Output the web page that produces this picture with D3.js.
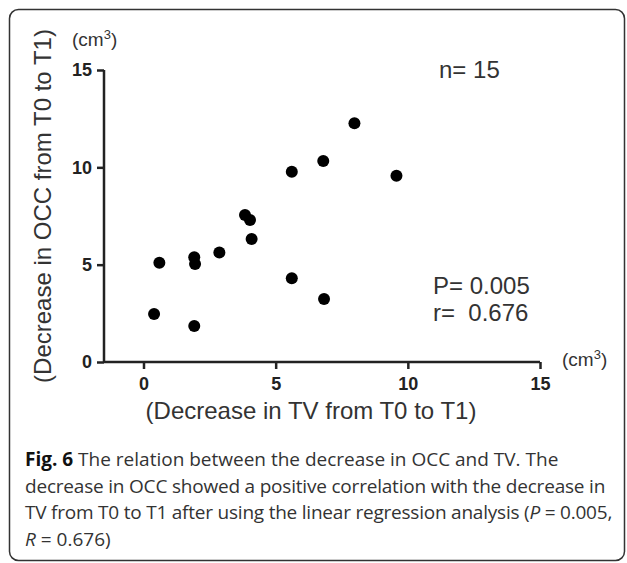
<!DOCTYPE html>
<html>
<head>
<meta charset="utf-8">
<script src="https://cdn.jsdelivr.net/npm/d3@7"></script>
<style>
  body { margin: 0; background: #fff; }
</style>
</head>
<body>
<div id="chart"></div>
<script>
// data (cm3)
var tvDecrease  = [0.40, 0.60, 1.92, 1.92, 1.95, 2.87, 3.84, 4.03, 4.09, 5.61, 5.61, 6.80, 6.83, 7.98, 9.57]
var occDecrease = [2.47, 5.10, 1.85, 5.38, 5.03, 5.63, 7.55, 7.29, 6.32, 4.30, 9.77, 10.32, 3.24, 12.26, 9.57]
var xTicks = [0, 5, 10, 15]
var yTicks = [0, 5, 10, 15]
var captionLines = [
  "The relation between the decrease in OCC and TV. The",
  "decrease in OCC showed a positive correlation with the decrease in",
  "TV from T0 to T1 after using the linear regression analysis (",
  "= 0.676)"
]

var W = 627, H = 563
var chartFont = "'Liberation Sans', Arial, sans-serif"
var capFont = "'Open Sans', 'Noto Sans', sans-serif"
var ink = "#222"

var svg = d3.select("#chart")
  .append("svg")
    .attr("width", W)
    .attr("height", H)

// frame round the figure
svg.append("rect")
    .attr("x", 9.5).attr("y", 9.5)
    .attr("width", 615).attr("height", 551)
    .attr("rx", 9)
    .attr("fill", "none")
    .attr("stroke", "#333")
    .attr("stroke-width", 1.5)

// scales
var x = d3.scaleLinear().domain([0, 15]).range([143.5, 540])
var y = d3.scaleLinear().domain([0, 15]).range([362, 70])
var xLeft = x.invert(104)

// X axis
var gx = svg.append("g")
    .attr("transform", "translate(0," + y(0) + ")")
    .call(d3.axisBottom(x).tickValues(xTicks).tickSize(7).tickPadding(8).tickFormat(d3.format("d")))
gx.select(".domain").attr("d", "M" + x(xLeft) + ",0H" + x(15))

// Y axis
var gy = svg.append("g")
    .attr("transform", "translate(" + x(xLeft) + ",0)")
    .call(d3.axisLeft(y).tickValues(yTicks).tickSize(7).tickPadding(5).tickFormat(d3.format("d")))
gy.select(".domain").attr("d", "M0," + y(0) + "V" + y(15))

svg.selectAll(".domain, .tick line")
    .attr("stroke", ink)
    .attr("stroke-width", 2.5)
svg.selectAll(".tick text")
    .attr("fill", ink)
    .style("font-family", chartFont)
    .style("font-size", "18px")
    .style("font-weight", "bold")

// points
svg.append("g")
  .selectAll("circle")
  .data(tvDecrease)
  .enter().append("circle")
    .attr("cx", function(d) { return x(d) })
    .attr("cy", function(d, i) { return y(occDecrease[i]) })
    .attr("r", 6)
    .attr("fill", "#000")

// axis titles
svg.append("text")
    .attr("transform", "translate(51,206) rotate(-90)")
    .attr("text-anchor", "middle")
    .attr("fill", "#333")
    .style("font-family", chartFont)
    .style("font-size", "24px")
    .text("(Decrease in OCC from T0 to T1)")

svg.append("text")
    .attr("x", 311).attr("y", 419)
    .attr("text-anchor", "middle")
    .attr("fill", "#333")
    .style("font-family", chartFont)
    .style("font-size", "24px")
    .text("(Decrease in TV from T0 to T1)")

// unit labels
function unit(px, py) {
  var t = svg.append("text")
      .attr("x", px).attr("y", py)
      .attr("fill", "#333")
      .style("font-family", chartFont)
      .style("font-size", "19px")
  t.append("tspan").text("(cm")
  t.append("tspan").attr("dy", -7).style("font-size", "13px").text("3")
  t.append("tspan").attr("dy", 7).text(")")
}
unit(72, 46)
unit(562, 366)

// stats
var stats = [["n= 15", 439, 78], ["P= 0.005", 433, 294], ["r=  0.676", 433, 321]]
svg.selectAll(".stat")
  .data(stats)
  .enter().append("text")
    .attr("class", "stat")
    .attr("x", function(d) { return d[1] })
    .attr("y", function(d) { return d[2] })
    .attr("fill", "#333")
    .attr("xml:space", "preserve")
    .style("white-space", "pre")
    .style("font-family", chartFont)
    .style("font-size", "24px")
    .text(function(d) { return d[0] })

// caption
var cap = svg.append("g")
    .attr("fill", "#333")
    .style("font-family", capFont)
    .style("font-size", "19px")

var l1 = cap.append("text").attr("x", 25).attr("y", 466)
l1.append("tspan").style("font-weight", "bold").attr("fill", "#111").text("Fig. 6")
l1.append("tspan").text(" " + captionLines[0])

cap.append("text").attr("x", 25).attr("y", 492.5)
    .style("letter-spacing", "-0.2px")
    .text(captionLines[1])

var l3 = cap.append("text").attr("x", 25).attr("y", 519)
    .style("letter-spacing", "-0.22px")
l3.append("tspan").text(captionLines[2])
l3.append("tspan").style("font-style", "italic").text("P")
l3.append("tspan").text(" = 0.005,")

var l4 = cap.append("text").attr("x", 25).attr("y", 545.5)
l4.append("tspan").style("font-style", "italic").text("R")
l4.append("tspan").text(" " + captionLines[3])
</script>
</body>
</html>
